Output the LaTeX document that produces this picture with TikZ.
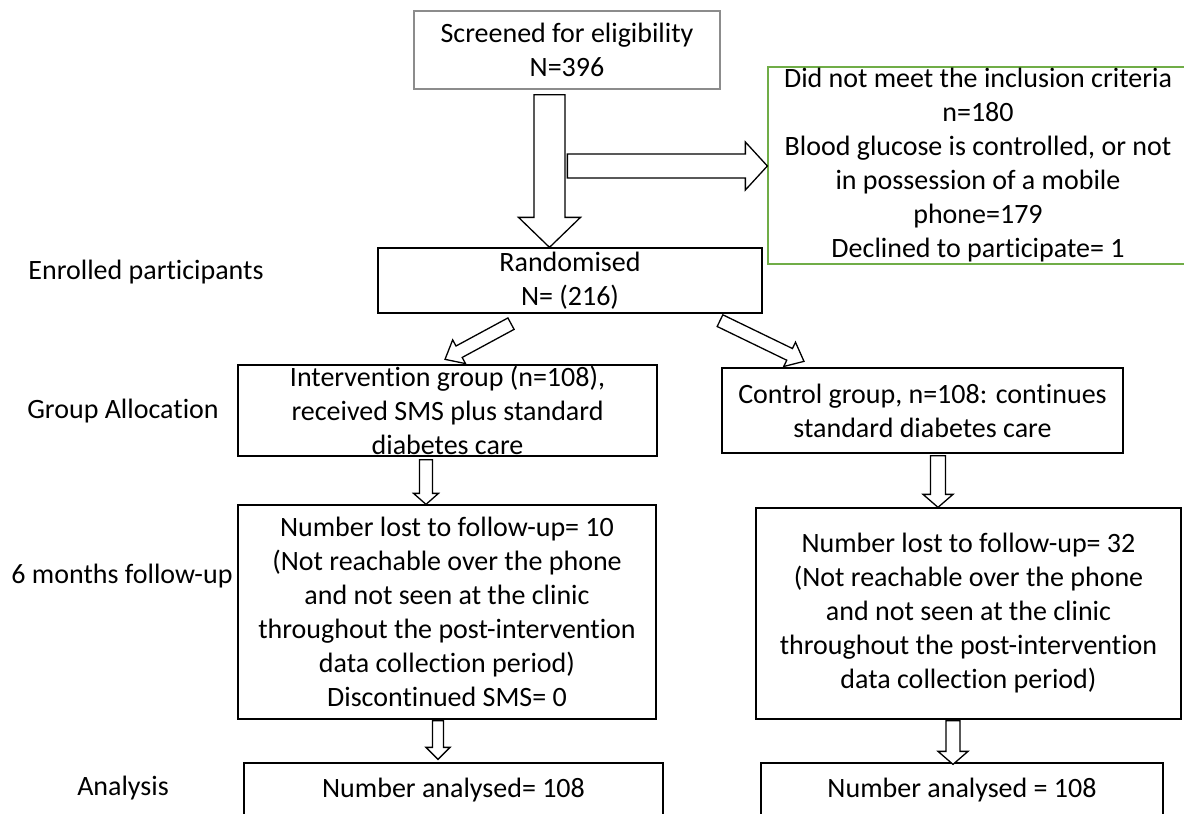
\documentclass[tikz,border=0pt]{standalone}
\usepackage{fontspec}
\setmainfont{Carlito}[RawFeature={-liga;-clig;-calt;-dlig}]
\usetikzlibrary{calc}

\definecolor{exclgreen}{RGB}{112,173,71}
\definecolor{screengray}{RGB}{140,140,140}

\tikzset{
  flowbox/.style={draw=black, line width=1.3pt, align=center, inner sep=0pt,
    font=\fontsize{28}{34}\selectfont},
  stagetext/.style={align=center, inner sep=0pt, font=\fontsize{28}{34}\selectfont},
  blockarrow/.style={draw=black, line width=1.3pt, fill=white, line join=miter},
}

\begin{document}
\begin{tikzpicture}[x=1pt, y=-1pt]

\newcommand\BlockArrow[5]{% from, to, shaft, head width, head length
  \draw[blockarrow] let \p1=(#1), \p2=(#2),
      \n1={atan2(\y2-\y1,\x2-\x1)}, \n2={veclen(\x2-\x1,\y2-\y1)} in
    [shift={(\p1)}, rotate=\n1]
    (0pt,{#3pt/2}) -- ({\n2-#5pt},{#3pt/2}) -- ({\n2-#5pt},{#4pt/2}) -- (\n2,0pt)
    -- ({\n2-#5pt},{-#4pt/2}) -- ({\n2-#5pt},{-#3pt/2}) -- (0pt,{-#3pt/2}) -- cycle;
}

\useasboundingbox (0,0) rectangle (1184,814);
\clip (0,0) rectangle (1184,814);

%% stages on the left
\node[stagetext] (enrol)  at (146,272) {Enrolled participants};
\node[stagetext] (alloc)  at (123,411) {Group Allocation};
\node[stagetext] (follow) at (122,576) {6 months follow-up};
\node[stagetext] (anal)   at (123,788) {Analysis};

%% boxes
\node[flowbox, draw=screengray, minimum width=306, minimum height=78] (screen) at (567,50)
  {Screened for eligibility\\N=396};
\node[flowbox, draw=exclgreen, minimum width=420, minimum height=197] (excl) at (978,165.5)
  {Did not meet the inclusion criteria\\n=180\\Blood glucose is controlled, or not\\in possession of a mobile\\phone=179\\Declined to participate= 1};
\node[flowbox, minimum width=384, minimum height=65] (random) at (570,280.5)
  {Randomised\\N= (216)};

\node[flowbox, minimum width=419, minimum height=91] (interv) at (447.5,410.5)
  {Intervention group (n=108),\\received SMS plus standard\\diabetes care};
\node[flowbox, minimum width=401, minimum height=85] (control) at (922.5,410.5)
  {Control group, n=108: continues\\standard diabetes care};

\node[flowbox, minimum width=418, minimum height=214] (fuI) at (447,612)
  {Number lost to follow-up= 10\\(Not reachable over the phone\\and not seen at the clinic\\throughout the post-intervention\\data collection period)\\Discontinued SMS= 0};
\node[flowbox, minimum width=425, minimum height=211] (fuC) at (968.5,613.5)
  {Number lost to follow-up= 32\\(Not reachable over the phone\\and not seen at the clinic\\throughout the post-intervention\\data collection period)};

\node[flowbox, minimum width=419, minimum height=54] (anI) at (453.5,790) {Number analysed= 108};
\node[flowbox, minimum width=402, minimum height=54] (anC) at (962,790) {Number analysed = 108};

%% arrows
\BlockArrow{$(screen.south)+(-17.5,5)$}{$(random.north)+(-20.5,0)$}{31}{62}{30}
\BlockArrow{$(excl.west)+(-200,0.5)$}{$(excl.west)+(0,0.5)$}{24}{48}{22}

\BlockArrow{$(random.south)+(-59,10)$}{$(interv.north)+(-2.5,-5)$}{13}{27}{16}
\BlockArrow{$(random.south)+(150,7)$}{$(control.north)+(-118.5,-6)$}{13}{27}{16}

\BlockArrow{$(interv.south)+(-21.5,3)$}{$(fuI.north)+(-21,0)$}{13}{25}{11}
\BlockArrow{$(control.south)+(15.5,2)$}{$(fuC.north)+(-30.5,0)$}{15}{30}{13}

\BlockArrow{$(fuI.south)+(-9,1)$}{$(anI.north)+(-15.5,-3)$}{11}{24}{12}
\BlockArrow{$(fuC.south)+(-15.5,1)$}{$(anC.north)+(-9,2)$}{14}{30}{13}

\end{tikzpicture}
\end{document}
